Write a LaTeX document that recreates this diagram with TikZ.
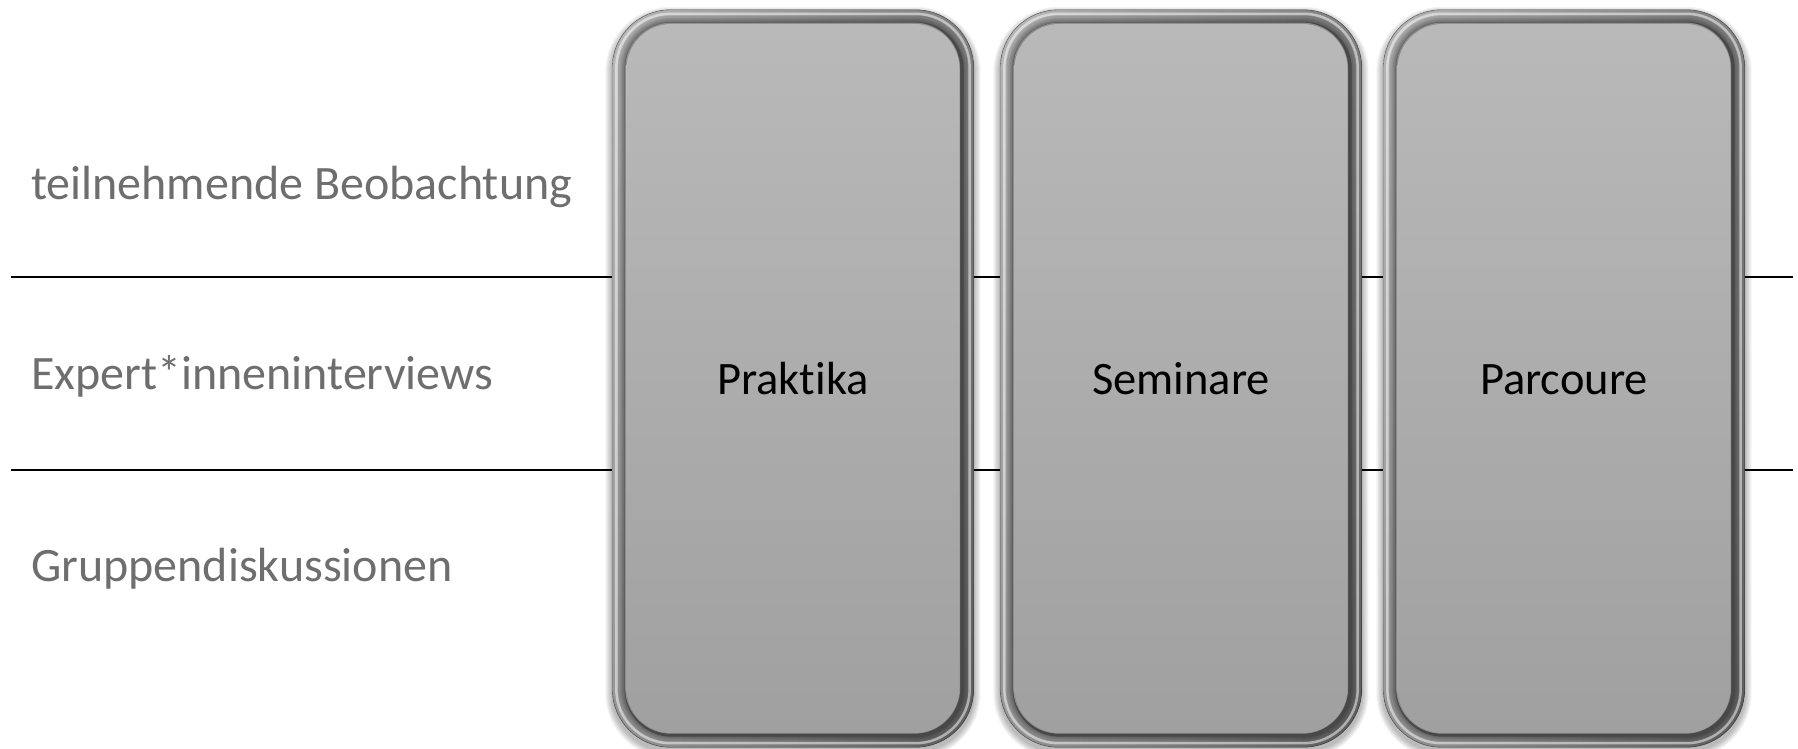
\documentclass[tikz,border=0pt]{standalone}
\usepackage{fontspec}
\setmainfont[Ligatures=NoCommon]{Carlito}
\usetikzlibrary{backgrounds,calc}
\pgfdeclarelayer{rules}
\pgfsetlayers{rules,background,main}

\definecolor{labelgray}{HTML}{6E6E6E}
\definecolor{facetop}{HTML}{B9B9B9}
\definecolor{facebot}{HTML}{A0A0A0}
\definecolor{frametop}{HTML}{D2D2D2}
\definecolor{framebot}{HTML}{9A9A9A}
\definecolor{rimdark}{HTML}{484848}

\tikzset{
  panel/.style={rectangle, rounded corners=45pt, minimum width=333pt,
    minimum height=709pt, inner sep=0pt, text height=33pt, text depth=0pt,
    top color=facetop, bottom color=facebot, draw=none, text=black,
    font=\fontsize{46.5}{50}\selectfont},
  rowlabel/.style={anchor=base west, inner sep=0pt, text=labelgray,
    font=\fontsize{48}{54}\selectfont},
  divider/.style={line width=2pt, black},
}

\begin{document}
\begin{tikzpicture}[x=1pt, y=1pt]
\useasboundingbox (0,0) rectangle (1798,749);

% row labels
\node[rowlabel] (r1) at (31,549) {teilnehmende Beobachtung};
\node[rowlabel] (r2) at (31,359) {Expert*inneninterviews};
\node[rowlabel] (r3) at (31,167) {Gruppendiskussionen};

% the three panels
\node[panel] (p1) at (793,370.5) {Praktika};
\node[panel] (p2) at (1181,370.5) {Seminare};
\node[panel] (p3) at (1564,370.5) {Parcoure};

% dividing rules, passing behind the panels
\coordinate (a1) at (11,472);
\coordinate (b1) at (1793,472);
\coordinate (a2) at (11,279);
\coordinate (b2) at (1793,279);
\begin{pgfonlayer}{rules}
  \draw[divider] (a1) -- (b1);
  \draw[divider] (a2) -- (b2);
\end{pgfonlayer}

% bevelled frames with soft drop shadows
\begin{scope}[on background layer]
\foreach \n in {p1,p2,p3} {
  \foreach \k in {1,...,7} {
    \fill[black, fill opacity=0.045, rounded corners=58+\k]
      ($(\n.north west)+(-14-\k,14+\k-4)$) rectangle
      ($(\n.south east)+(14+\k,-14-\k-4)$);
  }
  % frame body
  \fill[rounded corners=58pt, top color=frametop, bottom color=framebot]
    ($(\n.north west)+(-14,14)$) rectangle ($(\n.south east)+(14,-14)$);
  \fill[rounded corners=58pt, left color=white, right color=black,
        fill opacity=0.22]
    ($(\n.north west)+(-14,14)$) rectangle ($(\n.south east)+(14,-14)$);
  \draw[black, draw opacity=0.25, line width=0.8pt, rounded corners=58pt]
    ($(\n.north west)+(-14,14)$) rectangle ($(\n.south east)+(14,-14)$);
  % highlight along the outer bevel
  \draw[white, line width=2.5pt, draw opacity=0.5, rounded corners=54pt]
    ($(\n.north west)+(-10,10)$) rectangle ($(\n.south east)+(10,-10)$);
  % bevel darkening towards the face
  \foreach \d in {8,6,4.5,3,2} {
    \fill[black, fill opacity=0.09, rounded corners=45+\d]
      ($(\n.north west)+(-\d,\d)$) rectangle ($(\n.south east)+(\d,-\d)$);
  }
  % rim round the face
  \fill[rimdark, rounded corners=47pt]
    ($(\n.north west)+(-1.5,1.5)$) rectangle ($(\n.south east)+(4,-3.5)$);
  \fill[black!45, rounded corners=46pt]
    ($(\n.north west)+(-1.2,1.2)$) rectangle ($(\n.south east)+(0.5,-0.5)$);
}
\end{scope}
\end{tikzpicture}
\end{document}
